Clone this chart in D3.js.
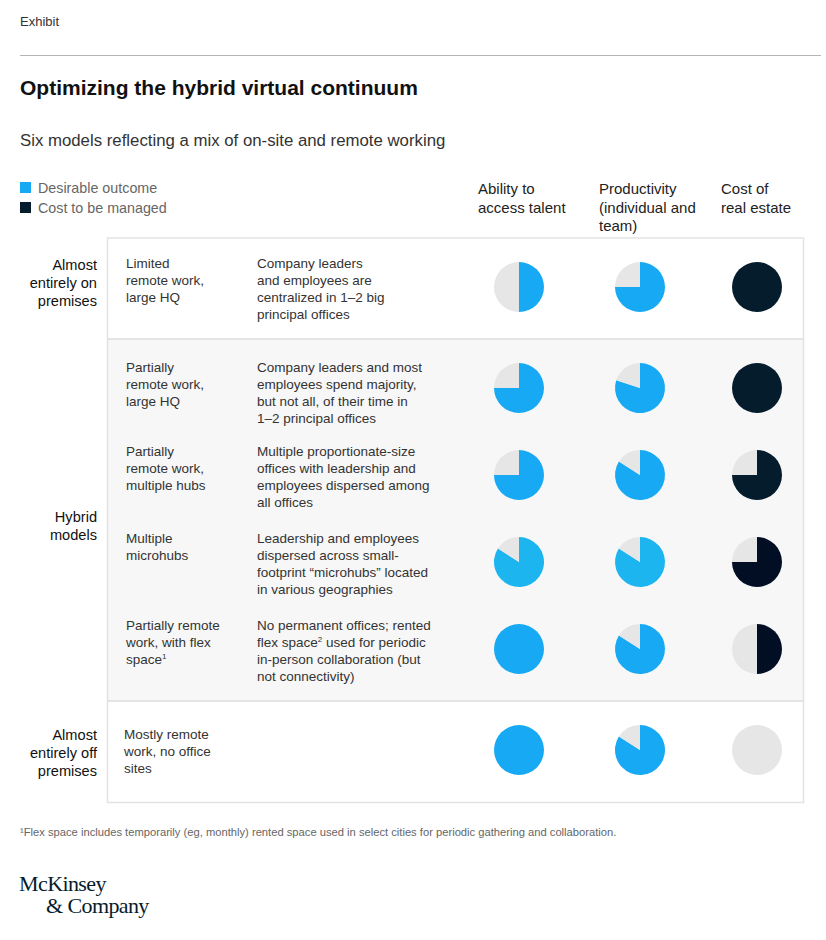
<!DOCTYPE html>
<html>
<head>
<meta charset="utf-8">
<script src="https://cdn.jsdelivr.net/npm/d3@7"></script>
<style>
  html, body { margin: 0; padding: 0; background: #fff; }
  svg { display: block; font-family: "Liberation Sans", Arial, sans-serif; }
</style>
</head>
<body>
<svg id="chart" width="826" height="940"></svg>
<script>
// ---------- DATA ----------
const legendItems = ["Desirable outcome", "Cost to be managed"];
const columnHeaders = [
  ["Ability to", "access talent"],
  ["Productivity", "(individual and", "team)"],
  ["Cost of", "real estate"]
];
const groupLabels = [
  ["Almost", "entirely on", "premises"],
  ["Hybrid", "models"],
  ["Almost", "entirely off", "premises"]
];
const rowGroup = [0, 1, 1, 1, 1, 2];
const modelNames = [
  ["Limited", "remote work,", "large HQ"],
  ["Partially", "remote work,", "large HQ"],
  ["Partially", "remote work,", "multiple hubs"],
  ["Multiple", "microhubs"],
  ["Partially remote", "work, with flex", "space¹"],
  ["Mostly remote", "work, no office", "sites"]
];
const descriptions = [
  ["Company leaders", "and employees are", "centralized in 1–2 big", "principal offices"],
  ["Company leaders and most", "employees spend majority,", "but not all, of their time in", "1–2 principal offices"],
  ["Multiple proportionate-size", "offices with leadership and", "employees dispersed among", "all offices"],
  ["Leadership and employees", "dispersed across small-", "footprint “microhubs” located", "in various geographies"],
  ["No permanent offices; rented", "flex space² used for periodic", "in-person collaboration (but", "not connectivity)"],
  []
];
// share of each circle filled (0–1)
const talentAccess = [0.50, 0.75, 0.75, 0.84, 1.00, 1.00];
const productivity = [0.75, 0.80, 0.84, 0.84, 0.84, 0.84];
const realEstateCost = [1.00, 1.00, 0.75, 0.75, 0.50, 0.00];
const footnote = "¹Flex space includes temporarily (eg, monthly) rented space used in select cities for periodic gathering and collaboration.";

// ---------- STYLE ----------
const BLUE = "#17A9F3", BLUE_LIGHT = "#1DB5EF", DARK = "#051C2C", DARKER = "#020E24", GREY = "#E6E6E6";
const fillColors = [
  [BLUE, BLUE, BLUE, BLUE_LIGHT, BLUE, BLUE],
  [BLUE, BLUE, BLUE, BLUE_LIGHT, BLUE, BLUE],
  [DARK, DARK, DARK, DARKER, DARKER, DARK]
];

const svg = d3.select("#chart");

// header
svg.append("text").attr("x", 20).attr("y", 26).attr("font-size", 13).attr("fill", "#333").text("Exhibit");
svg.append("line").attr("x1", 20).attr("x2", 821).attr("y1", 55.5).attr("y2", 55.5).attr("stroke", "#B5B5B5");
svg.append("text").attr("x", 20).attr("y", 95).attr("font-size", 21).attr("font-weight", "bold").attr("fill", "#111")
  .text("Optimizing the hybrid virtual continuum");
svg.append("text").attr("x", 20).attr("y", 146).attr("font-size", 16.8).attr("fill", "#333")
  .text("Six models reflecting a mix of on-site and remote working");

// legend
const legend = svg.append("g");
legendItems.forEach((t, i) => {
  legend.append("rect").attr("x", 20).attr("y", 182 + i * 20).attr("width", 11).attr("height", 11)
    .attr("fill", i === 0 ? BLUE : DARK);
  legend.append("text").attr("x", 38).attr("y", 193 + i * 20).attr("font-size", 14.3).attr("fill", "#666").text(t);
});

// scales
const xCol = [519, 640, 757];
const colX = d3.scaleOrdinal().domain(d3.range(3)).range(xCol);
const rowStep = 87, groupGap = 14;
const rowY = i => 287 + i * rowStep + rowGroup[i] * groupGap;
const R = 25;

// column headers
const headerLeft = [478, 599, 721];
columnHeaders.forEach((lines, c) => {
  lines.forEach((l, k) => {
    svg.append("text").attr("x", headerLeft[c]).attr("y", 194 + k * 18.5).attr("font-size", 15).attr("fill", "#222").text(l);
  });
});

// table bands
const tableX0 = 108, tableX1 = 803;
const groupIdx = d3.range(groupLabels.length);
const bands = groupIdx.map(g => {
  const rows = d3.range(rowGroup.length).filter(i => rowGroup[i] === g);
  return { g, top: rowY(rows[0]) - 48.5, bottom: rowY(rows[rows.length - 1]) + 52 };
});
bands[1].top = bands[0].bottom; bands[2].top = bands[1].bottom;
svg.selectAll("rect.band").data(bands).join("rect").attr("class", "band")
  .attr("x", tableX0).attr("width", tableX1 - tableX0)
  .attr("y", d => d.top).attr("height", d => d.bottom - d.top)
  .attr("fill", d => d.g === 1 ? "#F7F7F7" : "#FFFFFF");
svg.append("rect").attr("x", tableX0 - 0.5).attr("y", bands[0].top - 0.5)
  .attr("width", tableX1 - tableX0 + 1).attr("height", bands[2].bottom - bands[0].top + 1)
  .attr("fill", "none").attr("stroke", "#E3E3E3").attr("stroke-width", 1.5);
[bands[0].bottom, bands[1].bottom].forEach(y => {
  svg.append("line").attr("x1", tableX0).attr("x2", tableX1).attr("y1", y).attr("y2", y)
    .attr("stroke", "#DCDCDC").attr("stroke-width", 1.5);
});

// group labels
const groupMid = [288, 531, 758];
groupLabels.forEach((lines, g) => {
  const n = lines.length;
  lines.forEach((l, k) => {
    svg.append("text").attr("x", 97).attr("text-anchor", "end")
      .attr("y", groupMid[g] + (k - (n - 1) / 2) * 18).attr("font-size", 14.6).attr("fill", "#111").text(l);
  });
});

// row texts
modelNames.forEach((lines, i) => {
  const y0 = i === 5 ? rowY(i) - 11 : (i === 1 ? rowY(i) - 16 : rowY(i) - 19);
  const xm = i === 5 ? 124 : 126;
  lines.forEach((l, k) => {
    const t = svg.append("text").attr("x", xm).attr("y", y0 + k * 17).attr("font-size", 13.5).attr("fill", "#333");
    if (l.endsWith("¹")) {
      t.text(l.slice(0, -1));
      t.append("tspan").attr("font-size", 8).attr("dy", -5).text("1");
    } else t.text(l);
  });
  descriptions[i].forEach((l, k) => {
    const t = svg.append("text").attr("x", 257).attr("y", y0 + k * 17).attr("font-size", 13.5).attr("fill", "#333");
    if (l.includes("²")) {
      const parts = l.split("²");
      t.append("tspan").text(parts[0]);
      t.append("tspan").attr("font-size", 8).attr("dy", -5).text("2");
      t.append("tspan").attr("dy", 5).text(parts[1]);
    } else t.text(l);
  });
});

// pies
const pie = d3.pie().sort(null).value(d => d.v);
const arc = d3.arc().innerRadius(0).outerRadius(R);
const series = [talentAccess, productivity, realEstateCost];
series.forEach((vals, c) => {
  vals.forEach((v, i) => {
    const g = svg.append("g").attr("transform", `translate(${colX(c)},${rowY(i)})`);
    const data = [{ v: v, fill: fillColors[c][i] }, { v: 1 - v, fill: GREY }];
    g.selectAll("path").data(pie(data).filter(d => d.data.v > 0 && d.data.v < 1)).join("path")
      .attr("d", arc)
      .attr("fill", d => d.data.fill);
    data.filter(d => d.v >= 1).forEach(d => g.append("circle").attr("r", R).attr("fill", d.fill));
  });
});

// footnote
svg.append("text").attr("x", 20).attr("y", 836).attr("font-size", 11.2).attr("fill", "#666").text(footnote);

// logo
const logo = svg.append("g").attr("font-family", "'Liberation Serif', 'Times New Roman', serif").attr("fill", "#051C2C");
logo.append("text").attr("x", 19).attr("y", 891).attr("font-size", 22).attr("letter-spacing", -0.6).text("McKinsey");
logo.append("text").attr("x", 46).attr("y", 913).attr("font-size", 22).attr("letter-spacing", -0.6).text("& Company");
</script>
</body>
</html>
